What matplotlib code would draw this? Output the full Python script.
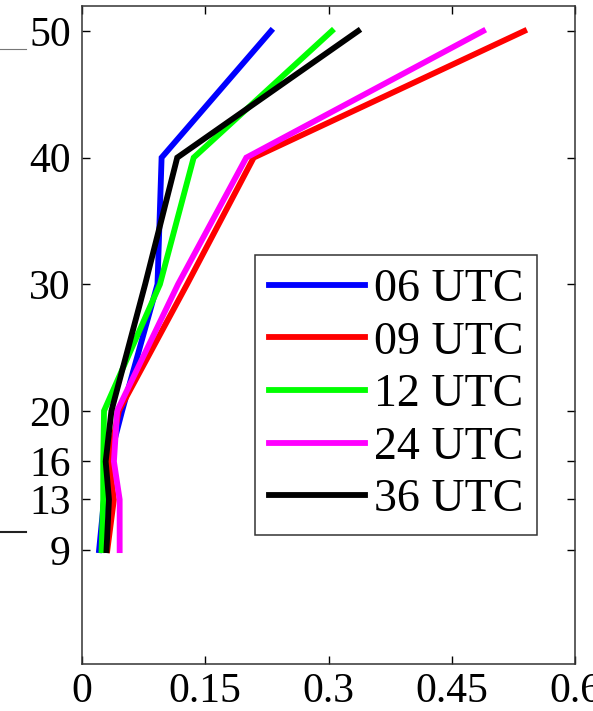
import matplotlib
matplotlib.use("Agg")
import matplotlib.pyplot as plt

plt.rcParams['font.family'] = ['Liberation Serif', 'DejaVu Serif']

# heights of the levels and the value at each level for every run
levels = [9, 13, 16, 20, 30, 40, 50]
run_labels = ['06 UTC', '09 UTC', '12 UTC', '24 UTC', '36 UTC']
run_colors = ['#0000ff', '#ff0000', '#00ff00', '#ff00ff', '#000000']

utc06 = [0.021, 0.027, 0.033, 0.049, 0.092, 0.097, 0.230]
utc09 = [0.031, 0.039, 0.033, 0.045, 0.128, 0.209, 0.538]
utc12 = [0.024, 0.026, 0.026, 0.027, 0.095, 0.136, 0.304]
utc24 = [0.046, 0.046, 0.039, 0.043, 0.117, 0.200, 0.488]
utc36 = [0.030, 0.033, 0.029, 0.036, 0.077, 0.116, 0.336]
runs = [utc06, utc09, utc12, utc24, utc36]

xticks = [0, 0.15, 0.3, 0.45, 0.6]
xticklabels = ['0', '0.15', '0.3', '0.45', '0.6']

fig = plt.figure(figsize=(5.93, 7.11), dpi=100)

# edge of the neighbouring panel
side = fig.add_axes([0.0, 0.252, 0.044, 0.679])
side.set_xticks([])
side.set_yticks([])
side.patch.set_visible(False)
for s in ['left', 'right']:
    side.spines[s].set_visible(False)
side.spines['top'].set_color('#777777')
side.spines['bottom'].set_color('#222222')
side.spines['bottom'].set_linewidth(1.5)

ax = fig.add_axes([0.138, 0.066, 0.832, 0.926])

for vals, lab, col in zip(runs, run_labels, run_colors):
    ax.plot(vals, levels, color=col, lw=4.2, label=lab, solid_joinstyle='miter')

ax.set_xlim(0, 0.6)
ax.set_ylim(0, 52)
ax.set_xticks(xticks)
ax.set_xticklabels(xticklabels)
ax.set_yticks(levels)
ax.tick_params(direction='in', length=6, width=1, top=True, right=True,
               labelsize=30, pad=8)
ax.tick_params(axis='x', pad=6)
for s in ax.spines.values():
    s.set_color('#333333')
    s.set_linewidth(1.1)

leg = ax.legend(loc='lower right', bbox_to_anchor=(0.923, 0.196),
                borderaxespad=0, fontsize=33, handlelength=2.1,
                handletextpad=0.2, labelspacing=0.22, borderpad=0.3,
                fancybox=False, framealpha=1)
leg.get_frame().set_edgecolor('#333333')
leg.get_frame().set_linewidth(1.1)

fig.savefig('out.png', dpi=100)
